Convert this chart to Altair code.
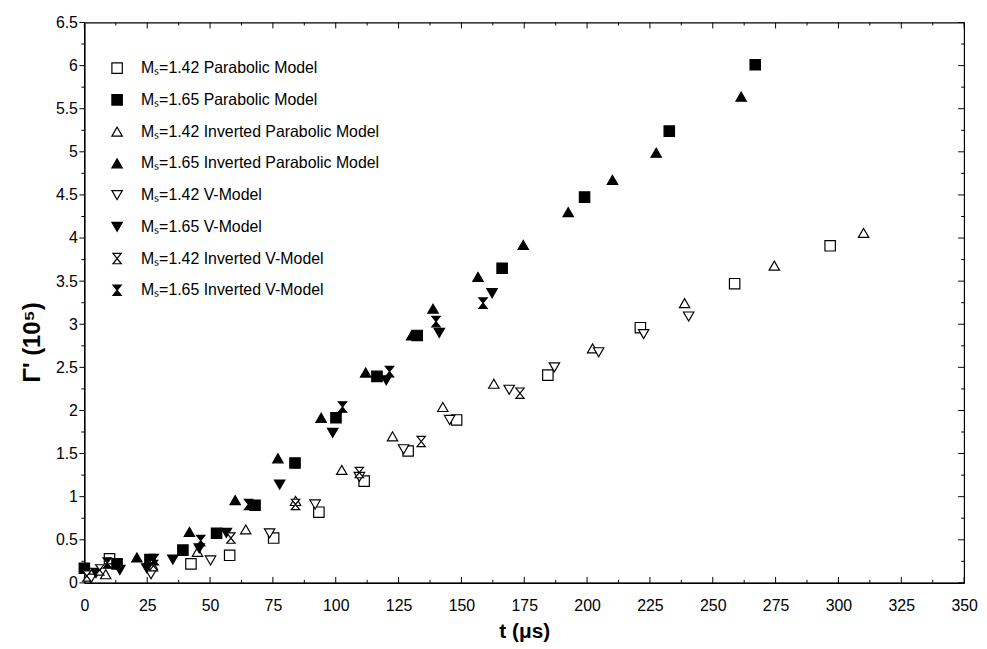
import altair as alt
import pandas as pd

# ---------------- data ----------------
series_names = [
    "Mₛ=1.42 Parabolic Model",
    "Mₛ=1.65 Parabolic Model",
    "Mₛ=1.42 Inverted Parabolic Model",
    "Mₛ=1.65 Inverted Parabolic Model",
    "Mₛ=1.42 V-Model",
    "Mₛ=1.65 V-Model",
    "Mₛ=1.42 Inverted V-Model",
    "Mₛ=1.65 Inverted V-Model",
]

s1_t = [10, 42.4, 57.8, 75.3, 93.3, 111.3, 128.8, 148.1, 184.4, 221.2, 258.7, 296.7]
s1_v = [0.28, 0.22, 0.32, 0.52, 0.82, 1.18, 1.53, 1.89, 2.41, 2.96, 3.47, 3.91]

s2_t = [0, 13, 26.1, 39.2, 52.6, 67.9, 83.8, 100.1, 116.4, 132.4, 166.2, 199, 232.7, 266.9]
s2_v = [0.17, 0.22, 0.27, 0.38, 0.575, 0.90, 1.39, 1.915, 2.395, 2.87, 3.65, 4.475, 5.24, 6.01]

s3_t = [8.5, 27, 45, 64.2, 84, 102.4, 122.6, 142.6, 162.9, 202.2, 238.8, 274.5, 310]
s3_v = [0.10, 0.21, 0.36, 0.62, 0.95, 1.31, 1.70, 2.04, 2.31, 2.72, 3.245, 3.68, 4.06]

s4_t = [20.9, 41.8, 60, 77, 94.2, 111.9, 130.2, 138.7, 156.6, 174.6, 192.5, 210.1, 227.5, 261.3]
s4_v = [0.295, 0.59, 0.96, 1.445, 1.915, 2.44, 2.87, 3.18, 3.55, 3.92, 4.30, 4.675, 4.99, 5.64]

s5_t = [2.6, 26.5, 50.2, 73.7, 91.8, 109.4, 127, 145.3, 169, 187, 204.6, 222.5, 240.4]
s5_v = [0.05, 0.10, 0.26, 0.575, 0.91, 1.23, 1.55, 1.89, 2.24, 2.50, 2.675, 2.885, 3.09]

s6_t = [4.6, 14.1, 24.8, 35.2, 45.7, 56.5, 77.7, 98.8, 120.1, 141.2, 162.2]
s6_v = [0.115, 0.15, 0.17, 0.27, 0.40, 0.58, 1.14, 1.74, 2.35, 2.90, 3.36]

s7_t = [1, 6.1, 27.5, 58.3, 84, 109.4, 134, 173.3]
s7_v = [0.08, 0.15, 0.20, 0.52, 0.91, 1.28, 1.64, 2.20]

s8_t = [9.1, 27.8, 46.3, 65.3, 102.7, 121.4, 139.9, 158.6]
s8_v = [0.23, 0.27, 0.49, 0.91, 2.04, 2.45, 3.03, 3.245]

x_major = [0, 25, 50, 75, 100, 125, 150, 175, 200, 225, 250, 275, 300, 325, 350]
x_minor = [12.5, 37.5, 62.5, 87.5, 112.5, 137.5, 162.5, 187.5, 212.5, 237.5, 262.5, 287.5, 312.5, 337.5]
y_major = [0, 0.5, 1, 1.5, 2, 2.5, 3, 3.5, 4, 4.5, 5, 5.5, 6, 6.5]
y_minor = [0.25, 0.75, 1.25, 1.75, 2.25, 2.75, 3.25, 3.75, 4.25, 4.75, 5.25, 5.75, 6.25]

# ---------------- styling ----------------
HOURGLASS = "M-0.8,-1L0.8,-1L-0.8,1L0.8,1Z"
shapes = ["square", "square", "triangle-up", "triangle-up",
          "triangle-down", "triangle-down", HOURGLASS, HOURGLASS]
fills = ["white", "black", "white", "black", "white", "black", "white", "black"]
strokes = ["black"] * 8
sizes = [110, 110, 130, 130, 60, 60, 70, 70]

all_t = [s1_t, s2_t, s3_t, s4_t, s5_t, s6_t, s7_t, s8_t]
all_v = [s1_v, s2_v, s3_v, s4_v, s5_v, s6_v, s7_v, s8_v]
rows = []
for name, ts, vs in zip(series_names, all_t, all_v):
    for t, v in zip(ts, vs):
        rows.append({"series": name, "t": t, "v": v})
df = pd.DataFrame(rows)

W, H = 887, 565
FONT = "Liberation Sans"

xscale = alt.Scale(domain=[0, 350], nice=False, zero=False)
yscale = alt.Scale(domain=[0, 6.5], nice=False, zero=False)

legend = alt.Legend(
    orient="none", legendX=25, legendY=38, title=None,
    labelFont=FONT, labelFontSize=16, labelColor="black", labelLimit=0,
    symbolStrokeColor="black", symbolStrokeWidth=1.2,
    rowPadding=16, labelOffset=16, padding=0,
)

points = alt.Chart(df).mark_point(filled=True, opacity=1, strokeWidth=1.2).encode(
    x=alt.X("t:Q", scale=xscale,
            axis=alt.Axis(values=x_major, title="t (μs)", ticks=False,
                          labelPadding=15, titlePadding=7, labelFlush=False)),
    y=alt.Y("v:Q", scale=yscale,
            axis=alt.Axis(values=y_major, title="Γ' (10⁵)", ticks=False,
                          labelPadding=7, labelFlush=False, titleY=322, titlePadding=11,
                          titleFontSize=24, labelExpr="datum.value")),
    shape=alt.Shape("series:N", scale=alt.Scale(domain=series_names, range=shapes), legend=legend),
    fill=alt.Fill("series:N", scale=alt.Scale(domain=series_names, range=fills), legend=legend),
    stroke=alt.Stroke("series:N", scale=alt.Scale(domain=series_names, range=strokes), legend=legend),
    size=alt.Size("series:N", scale=alt.Scale(domain=series_names, range=sizes), legend=legend),
)

xmaj = pd.DataFrame({"t": x_major})
xmin = pd.DataFrame({"t": x_minor})
ymaj = pd.DataFrame({"v": y_major})
ymin = pd.DataFrame({"v": y_minor})

def xt(data, y0, y1):
    return alt.Chart(data).mark_rule(color="black", strokeWidth=1).encode(
        x=alt.X("t:Q", scale=xscale), y=alt.value(y0), y2=alt.value(y1))

def yt(data, x0, x1):
    return alt.Chart(data).mark_rule(color="black", strokeWidth=1).encode(
        y=alt.Y("v:Q", scale=yscale), x=alt.value(x0), x2=alt.value(x1))

ticks = [
    xt(xmaj, H, H - 6), xt(xmin, H, H - 3),
    xt(xmaj, 0, 6), xt(xmin, 0, 3),
    yt(ymaj, -5, 0), yt(ymin, -3, 0),
    yt(ymaj, W, W - 6), yt(ymin, W, W - 3),
]

chart = alt.layer(*ticks, points).properties(
    width=W, height=H,
    autosize=alt.AutoSizeParams(type="none"),
    padding={"left": 77, "top": 12, "right": 15, "bottom": 60},
).configure_view(
    stroke="black", strokeWidth=1.2
).configure_axis(
    labelFont=FONT, labelFontSize=16, labelColor="black",
    titleFont=FONT, titleFontSize=21, titleFontWeight="bold", titleColor="black",
    domainColor="black", domainWidth=1.2, grid=False,
)

chart.save("out.html", embed_options={"renderer": "svg", "actions": False})
